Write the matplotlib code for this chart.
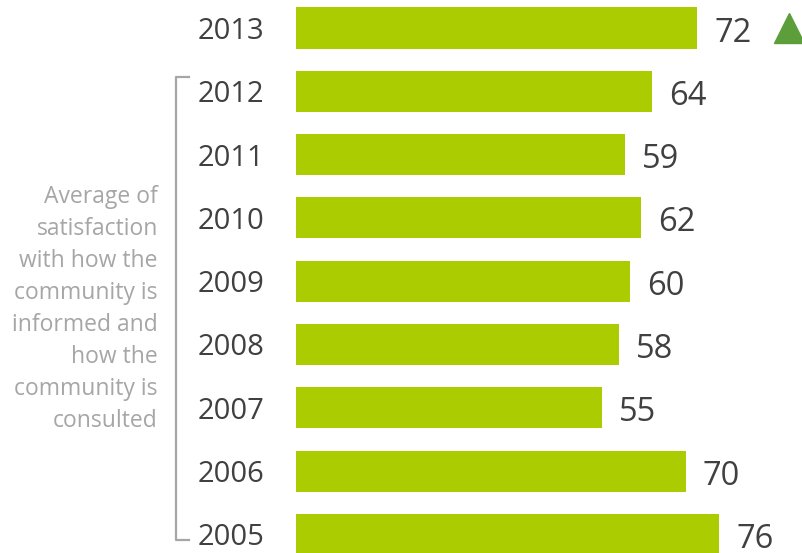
import matplotlib
matplotlib.use("Agg")
import matplotlib.pyplot as plt
from matplotlib.lines import Line2D

plt.rcParams['font.family'] = ['Open Sans', 'DejaVu Sans']

years = ["2013", "2012", "2011", "2010", "2009", "2008", "2007", "2006", "2005"]
values = [72, 64, 59, 62, 60, 58, 55, 70, 76]
side_label = ("Average of\nsatisfaction\nwith how the\ncommunity is\ninformed and\n"
              "how the\ncommunity is\nconsulted")

W, H = 803, 553
fig = plt.figure(figsize=(W / 100, H / 100), dpi=100)
x0 = 296 / W
ax = fig.add_axes([x0, 0, 1 - x0, 1])
px_per_unit = 5.57
ax.set_xlim(0, (W - 296) / px_per_unit)
step = 63.3
ax.set_ylim((H - 28) / step, -28 / step)

pos = list(range(len(years)))
ax.barh(pos, values, height=0.65, color="#AACC00", edgecolor="none")
for p, v in zip(pos, values):
    ax.text(v + 17 / px_per_unit, p + 1 / step, str(v), va="center_baseline", ha="left",
            fontsize=23.5, color="#404040")

# green up triangle for latest year
ax.plot([values[0] + 92 / px_per_unit], [pos[0]], marker="^", markersize=22,
        color="#5B9E3A", clip_on=False)

ax.set_yticks(pos)
ax.set_yticklabels(years, fontsize=21, color="#404040")
ax.tick_params(axis="y", length=0, pad=23)
ax.set_xticks([])
for s in ax.spines.values():
    s.set_visible(False)

# bracket
gc = "#A6A6A6"
xb, xt = 176 / W, 189 / W
yt, yb = 1 - 77 / H, 1 - 540 / H
fig.add_artist(Line2D([xt, xb, xb, xt], [yt, yt, yb, yb], color=gc, lw=1.6))

fig.text(158 / W, 1 - 309 / H, side_label, ha="right", va="center",
         fontsize=16.5, color=gc, linespacing=1.45)

fig.savefig("out.png", dpi=100)
